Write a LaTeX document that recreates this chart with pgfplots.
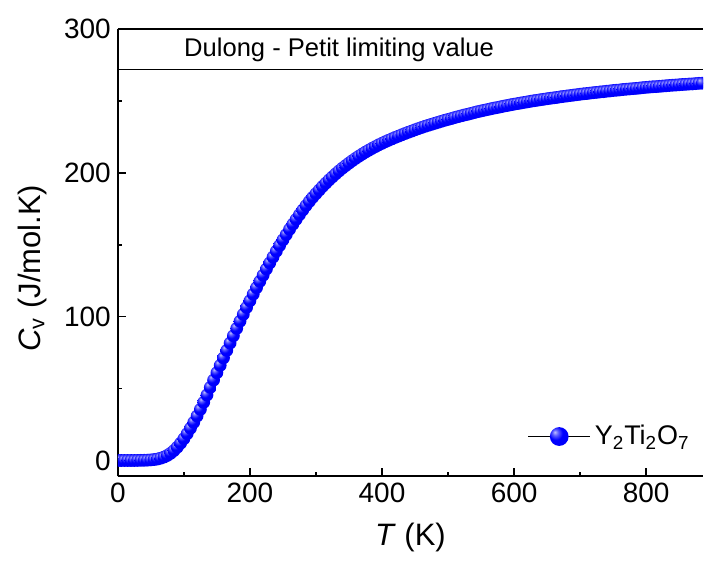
\documentclass[border=0pt]{standalone}
\usepackage{fontspec}
\setmainfont{Liberation Sans}
\usepackage{pgfplots}
\usepackage{pgfplotstable}
\pgfplotsset{compat=1.18}

% sphere-like marker, as in the original plot
\pgfdeclareradialshading{sph}{\pgfqpoint{-12bp}{12bp}}{rgb(0bp)=(0.75,0.75,1); rgb(8bp)=(0.35,0.35,1); rgb(18bp)=(0,0,1); rgb(50bp)=(0,0,0.95); rgb(70bp)=(0,0,0.9)}
\pgfdeclareplotmark{sph}{\pgfpathcircle{\pgfpointorigin}{\pgfplotmarksize}\pgfshadepath{sph}{0}\pgfusepath{discard}}

\pgfplotstableread{
T Cv
0 0
5 0
10 0
15 0
20 0
25 0
30 0.05
35 0.1
40 0.15
45 0.25
50 0.4
55 0.65
60 1.0
65 1.6
70 2.4
75 3.5
80 5.0
85 6.9
90 9.2
95 12.0
100 15.1
105 18.6
110 22.4
115 26.5
120 30.9
125 35.5
130 40.4
135 45.5
140 50.8
145 55.9
150 61.0
155 66.1
160 71.3
165 76.5
170 81.6
175 86.7
180 91.8
185 96.8
190 101.6
195 106.4
200 111.0
205 115.6
210 120.1
215 124.5
220 128.8
225 133.1
230 137.3
235 141.4
240 145.5
245 149.4
250 153.3
255 157.0
260 160.7
265 164.2
270 167.6
275 170.9
280 174.1
285 177.2
290 180.1
295 182.9
300 185.5
305 188.0
310 190.5
315 192.8
320 195.1
325 197.2
330 199.3
335 201.3
340 203.2
345 205.0
350 206.7
355 208.4
360 210.0
365 211.5
370 213.0
375 214.4
380 215.7
385 217.0
390 218.2
395 219.4
400 220.5
405 221.6
410 222.6
415 223.6
420 224.6
425 225.5
430 226.4
435 227.3
440 228.2
445 229.0
450 229.9
455 230.7
460 231.5
465 232.3
470 233.0
475 233.7
480 234.4
485 235.1
490 235.8
495 236.5
500 237.1
505 237.7
510 238.4
515 239.0
520 239.6
525 240.2
530 240.7
535 241.3
540 241.9
545 242.5
550 243.0
555 243.5
560 244.0
565 244.5
570 245.0
575 245.4
580 245.9
585 246.4
590 246.8
595 247.3
600 247.7
605 248.1
610 248.5
615 248.9
620 249.3
625 249.7
630 250.1
635 250.4
640 250.8
645 251.1
650 251.5
655 251.8
660 252.1
665 252.4
670 252.8
675 253.1
680 253.4
685 253.7
690 254.0
695 254.3
700 254.6
705 254.9
710 255.1
715 255.4
720 255.7
725 255.9
730 256.2
735 256.4
740 256.7
745 256.9
750 257.2
755 257.4
760 257.6
765 257.9
770 258.1
775 258.3
780 258.5
785 258.7
790 258.9
795 259.2
800 259.4
805 259.6
810 259.8
815 259.9
820 260.1
825 260.3
830 260.5
835 260.7
840 260.9
845 261.0
850 261.2
855 261.4
860 261.5
865 261.7
870 261.8
875 262.0
880 262.2
885 262.3
890 262.5
}\cvdata

\begin{document}
\begin{tikzpicture}
\begin{axis}[
    name=ax,
    scale only axis,
    width=293pt, height=224pt,
    xmin=0, xmax=886,
    ymin=-11, ymax=300,
    clip marker paths=true,
    xtick={0,200,...,800},
    minor xtick={100,300,...,900},
    ytick={0,100,200,300},
    minor ytick={50,150,250},
    tick align=inside,
    xtick pos=bottom, ytick pos=left,
    major tick length=4pt, minor tick length=2pt,
    tick style={black, line width=0.8pt},
    axis x line*=box, axis y line*=left,
    axis line style={-, line width=1pt},
    ticklabel style={font=\fontsize{14}{16}\selectfont},
    /pgf/number format/assume math mode=true,
    label style={font=\fontsize{15.5}{18}\selectfont},
    xlabel={\textit{T} (K)},
    ylabel={\textit{C}\textsubscript{v} (J/mol.K)},
    xlabel style={yshift=-3pt},
    ylabel style={at={(ticklabel cs:0.465)}, yshift=2pt},
    legend style={at={(0.995,0.045)}, anchor=south east, draw=none, fill=none,
        font=\fontsize{13.5}{16}\selectfont},
    legend image code/.code={%
        \draw[black, line width=0.6pt] (0pt,0pt) -- (31pt,0pt);
        \pgfscope
        \pgftransformshift{\pgfqpoint{15.5pt}{0pt}}%
        \pgfsetplotmarksize{4.7pt}\pgfuseplotmark{sph}%
        \endpgfscope
    },
]
\addplot[black, line width=0.7pt, forget plot] coordinates {(0,272) (886,272)};
\node[anchor=base, yshift=6.5pt, font=\fontsize{12.8}{15}\selectfont] at (axis cs:335,272) {Dulong - Petit limiting value};
\addplot[black, line width=0.4pt, mark=sph, mark size=3.2pt] table[x=T, y=Cv] {\cvdata};
\addlegendentry{Y\textsubscript{2}Ti\textsubscript{2}O\textsubscript{7}}
\end{axis}
\path ([xshift=-59pt,yshift=-42.5pt]ax.south west) rectangle ([yshift=14.5pt]ax.north east);
\end{tikzpicture}
\end{document}
